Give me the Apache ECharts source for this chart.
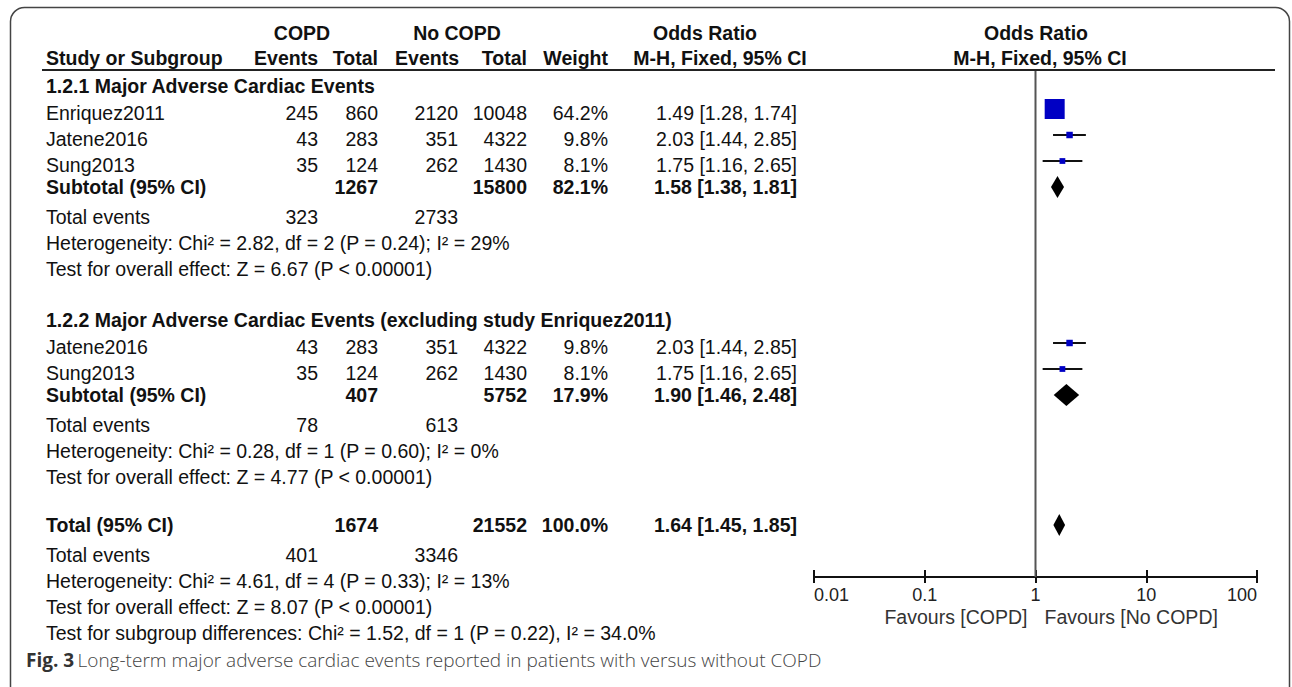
<!DOCTYPE html>
<html>
<head>
<meta charset="utf-8">
<title>Forest plot – major adverse cardiac events, COPD vs no COPD</title>
<script src="https://cdn.jsdelivr.net/npm/echarts@6/dist/echarts.min.js"></script>
<style>
  html, body { margin: 0; padding: 0; background: #fff; }
  #chart { width: 1292px; height: 687px; }
</style>
</head>
<body>
<div id="chart"></div>
<script>
// ---- study data -------------------------------------------------------------
const studies      = ['Enriquez2011', 'Jatene2016', 'Sung2013'];
const copdEvents   = [245, 43, 35];
const copdTotal    = [860, 283, 124];
const noCopdEvents = [2120, 351, 262];
const noCopdTotal  = [10048, 4322, 1430];
const weights      = [64.2, 9.8, 8.1];
const orValue      = [1.49, 2.03, 1.75];
const orLow        = [1.28, 1.44, 1.16];
const orHigh       = [1.74, 2.85, 2.65];

// ---- subgroups --------------------------------------------------------------
const subgroupTitles  = ['1.2.1 Major Adverse Cardiac Events',
                         '1.2.2 Major Adverse Cardiac Events (excluding study Enriquez2011)'];
const subgroupMembers = [[0, 1, 2], [1, 2]];
const subgroupOr      = [1.58, 1.90];
const subgroupLow     = [1.38, 1.46];
const subgroupHigh    = [1.81, 2.48];
const subgroupHet     = ['Heterogeneity: Chi² = 2.82, df = 2 (P = 0.24); I² = 29%',
                         'Heterogeneity: Chi² = 0.28, df = 1 (P = 0.60); I² = 0%'];
const subgroupEffect  = ['Test for overall effect: Z = 6.67 (P < 0.00001)',
                         'Test for overall effect: Z = 4.77 (P < 0.00001)'];

// ---- overall ----------------------------------------------------------------
const totalOr    = 1.64;
const totalLow   = 1.45;
const totalHigh  = 1.85;
const totalNotes = ['Heterogeneity: Chi² = 4.61, df = 4 (P = 0.33); I² = 13%',
                    'Test for overall effect: Z = 8.07 (P < 0.00001)',
                    'Test for subgroup differences: Chi² = 1.52, df = 1 (P = 0.22), I² = 34.0%'];

// ---- axis -------------------------------------------------------------------
const axisTicks      = [0.01, 0.1, 1, 10, 100];
const axisTickLabels = ['0.01', '0.1', '1', '10', '100'];
const favourLabels   = ['Favours [COPD]', 'Favours [No COPD]'];
const captionLead    = 'Fig. 3';
const captionText    = 'Long-term major adverse cardiac events reported in patients with versus without COPD';

// ---- layout -----------------------------------------------------------------
const FONT = "Liberation Sans, Arial, Helvetica, sans-serif";
const FS = 19.5;
const GRID = { left: 814, top: 71, width: 443, height: 506 };
const COL = { name: 46, ev1: 318, tot1: 378, ev2: 458, tot2: 527, weight: 608, or: 797 };
const STEP = { start: 86, afterTitle: 27, study: 26, subtotal: 22, afterSubtotal: 30,
               note: 26, groupGap: 51, beforeTotal: 48 };
const STUDY_SHIFT = -4;     // study marks sit slightly above the text centre line
const DIAMOND_H = 22;

const fmtOr = (m, l, h) => `${m.toFixed(2)} [${l.toFixed(2)}, ${h.toFixed(2)}]`;
const sumOf = (arr, idx) => idx.reduce((s, i) => s + arr[i], 0);

const texts = [];
function cell(str, x, y, align, bold) {
  texts.push({
    type: 'text', silent: true,
    style: {
      x: x, y: y, text: str, align: align || 'left', verticalAlign: 'middle',
      fill: '#111', fontFamily: FONT, fontSize: FS, fontWeight: bold ? 'bold' : 'normal'
    }
  });
}

// column headers
cell('COPD', 302, 33, 'center', true);
cell('No COPD', 457, 33, 'center', true);
cell('Odds Ratio', 705, 33, 'center', true);
cell('Odds Ratio', 1036, 33, 'center', true);
cell('Study or Subgroup', COL.name, 58, 'left', true);
cell('Events', COL.ev1, 58, 'right', true);
cell('Total', COL.tot1, 58, 'right', true);
cell('Events', COL.ev2 + 1, 58, 'right', true);
cell('Total', COL.tot2, 58, 'right', true);
cell('Weight', COL.weight, 58, 'right', true);
cell('M-H, Fixed, 95% CI', 720, 58, 'center', true);
cell('M-H, Fixed, 95% CI', 1040, 58, 'center', true);

// table body and marks, row by row
const studyMarks = [];
const diamondMarks = [];
let y = STEP.start;
let grand = { ct: 0, nt: 0, ce: 0, ne: 0, w: 0 };

subgroupTitles.forEach((title, g) => {
  if (g > 0) y += STEP.groupGap;
  cell(title, COL.name, y, 'left', true);
  const members = subgroupMembers[g];
  members.forEach((i, k) => {
    y += k === 0 ? STEP.afterTitle : STEP.study;
    cell(studies[i], COL.name, y, 'left');
    cell(String(copdEvents[i]), COL.ev1, y, 'right');
    cell(String(copdTotal[i]), COL.tot1, y, 'right');
    cell(String(noCopdEvents[i]), COL.ev2, y, 'right');
    cell(String(noCopdTotal[i]), COL.tot2, y, 'right');
    cell(weights[i].toFixed(1) + '%', COL.weight, y, 'right');
    cell(fmtOr(orValue[i], orLow[i], orHigh[i]), COL.or, y, 'right');
    studyMarks.push([orValue[i], orLow[i], orHigh[i], y + STUDY_SHIFT - GRID.top, weights[i]]);
  });
  const ct = sumOf(copdTotal, members), nt = sumOf(noCopdTotal, members);
  const ce = sumOf(copdEvents, members), ne = sumOf(noCopdEvents, members);
  const w = sumOf(weights, members);
  grand.ct += ct; grand.nt += nt; grand.ce += ce; grand.ne += ne; grand.w += w;

  y += STEP.subtotal;
  cell('Subtotal (95% CI)', COL.name, y, 'left', true);
  cell(String(ct), COL.tot1, y, 'right', true);
  cell(String(nt), COL.tot2, y, 'right', true);
  cell(w.toFixed(1) + '%', COL.weight, y, 'right', true);
  cell(fmtOr(subgroupOr[g], subgroupLow[g], subgroupHigh[g]), COL.or, y, 'right', true);
  diamondMarks.push([subgroupOr[g], subgroupLow[g], subgroupHigh[g], y - GRID.top]);

  y += STEP.afterSubtotal;
  cell('Total events', COL.name, y, 'left');
  cell(String(ce), COL.ev1, y, 'right');
  cell(String(ne), COL.ev2, y, 'right');
  y += STEP.note;
  cell(subgroupHet[g], COL.name, y, 'left');
  y += STEP.note;
  cell(subgroupEffect[g], COL.name, y, 'left');
});

y += STEP.beforeTotal;
cell('Total (95% CI)', COL.name, y, 'left', true);
cell(String(grand.ct), COL.tot1, y, 'right', true);
cell(String(grand.nt), COL.tot2, y, 'right', true);
cell(grand.w.toFixed(1) + '%', COL.weight, y, 'right', true);
cell(fmtOr(totalOr, totalLow, totalHigh), COL.or, y, 'right', true);
diamondMarks.push([totalOr, totalLow, totalHigh, y - GRID.top]);

y += STEP.afterSubtotal;
cell('Total events', COL.name, y, 'left');
cell(String(grand.ce), COL.ev1, y, 'right');
cell(String(grand.ne), COL.ev2, y, 'right');
totalNotes.forEach(note => { y += STEP.note; cell(note, COL.name, y, 'left'); });

// frame, header rule and caption
const decorations = [
  { type: 'rect', silent: true, z: -1,
    shape: { x: 10.5, y: 7.5, width: 1279, height: 720, r: 14 },
    style: { fill: 'none', stroke: '#444', lineWidth: 1.5 } },
  { type: 'line', silent: true,
    shape: { x1: 42, y1: 70, x2: 1275, y2: 70 },
    style: { stroke: '#222', lineWidth: 2 } },
  { type: 'text', silent: true,
    style: {
      x: 26, y: 660, verticalAlign: 'middle', align: 'left',
      text: '{b|' + captionLead + '} {l|' + captionText + '}',
      rich: {
        b: { fontFamily: 'Open Sans, sans-serif', fontWeight: 'bold', fontSize: 19, fill: '#333' },
        l: { fontFamily: 'Open Sans, sans-serif', fontWeight: 300, fontSize: 19, fill: '#444' }
      }
    } }
];

const chart = echarts.init(document.getElementById('chart'), null, { renderer: 'svg' });

const logAxisBase = {
  type: 'log', logBase: 10,
  min: axisTicks[0], max: axisTicks[axisTicks.length - 1],
  splitLine: { show: false }
};

chart.setOption({
  animation: false,
  backgroundColor: '#fff',
  // two grids with the same geometry: the second one only carries the
  // upward half of the tick marks, so the ticks cross the axis line
  grid: [Object.assign({ containLabel: false }, GRID), Object.assign({ containLabel: false }, GRID)],
  xAxis: [
    Object.assign({}, logAxisBase, {
      gridIndex: 0, position: 'bottom',
      axisLine: { show: true, onZero: false, lineStyle: { color: '#111', width: 2 } },
      axisTick: { show: true, inside: false, length: 6, lineStyle: { color: '#111', width: 2 } },
      axisLabel: {
        show: true, margin: 9, color: '#222', fontSize: 18, fontFamily: FONT,
        alignMinLabel: 'left', alignMaxLabel: 'right',
        formatter: v => {
          const k = axisTicks.findIndex(t => Math.abs(Math.log10(t) - Math.log10(v)) < 1e-6);
          return k >= 0 ? axisTickLabels[k] : '';
        }
      }
    }),
    Object.assign({}, logAxisBase, {
      gridIndex: 1, position: 'bottom',
      axisLine: { show: false, onZero: false },
      axisTick: { show: true, inside: true, length: 7, lineStyle: { color: '#111', width: 2 } },
      axisLabel: { show: false }
    })
  ],
  yAxis: [
    { gridIndex: 0, type: 'value', min: 0, max: GRID.height, inverse: true, show: false },
    { gridIndex: 1, type: 'value', min: 0, max: GRID.height, inverse: true, show: false }
  ],
  series: [
    { // line of no effect
      type: 'line', xAxisIndex: 0, yAxisIndex: 0, silent: true, symbol: 'none',
      data: [[1, 0], [1, GRID.height]],
      lineStyle: { color: '#555', width: 2 }
    },
    { // individual studies: CI whisker + weighted square
      type: 'custom', xAxisIndex: 0, yAxisIndex: 0, silent: true,
      data: studyMarks,
      encode: { x: [0, 1, 2], y: 3 },
      renderItem: (params, api) => {
        const yv = api.value(3);
        const c = api.coord([api.value(0), yv]);
        const a = api.coord([api.value(1), yv]);
        const b = api.coord([api.value(2), yv]);
        const s = 20 * Math.pow(api.value(4) / weights[0], 0.6);
        return { type: 'group', children: [
          { type: 'line', shape: { x1: a[0], y1: a[1], x2: b[0], y2: b[1] },
            style: { stroke: '#111', lineWidth: 2 } },
          { type: 'rect', shape: { x: c[0] - s / 2, y: c[1] - s / 2, width: s, height: s },
            style: { fill: '#0000c4' } }
        ] };
      }
    },
    { // pooled estimates: diamonds
      type: 'custom', xAxisIndex: 0, yAxisIndex: 0, silent: true,
      data: diamondMarks,
      encode: { x: [0, 1, 2], y: 3 },
      renderItem: (params, api) => {
        const yv = api.value(3);
        const c = api.coord([api.value(0), yv]);
        const a = api.coord([api.value(1), yv]);
        const b = api.coord([api.value(2), yv]);
        const h = DIAMOND_H / 2;
        return { type: 'polygon',
          shape: { points: [[a[0], a[1]], [c[0], c[1] - h], [b[0], b[1]], [c[0], c[1] + h]] },
          style: { fill: '#000' } };
      }
    }
  ],
  graphic: decorations.concat(texts)
});

// "Favours" captions either side of the line of no effect
const x1 = chart.convertToPixel({ xAxisIndex: 0 }, 1);
const axisY = GRID.top + GRID.height;
chart.setOption({
  graphic: decorations.concat(texts).concat([
    { type: 'text', silent: true,
      style: { x: x1 - 8, y: axisY + 40, text: favourLabels[0], align: 'right', verticalAlign: 'middle',
               fill: '#333', fontFamily: FONT, fontSize: FS } },
    { type: 'text', silent: true,
      style: { x: x1 + 9, y: axisY + 40, text: favourLabels[1], align: 'left', verticalAlign: 'middle',
               fill: '#333', fontFamily: FONT, fontSize: FS } }
  ])
});
</script>
</body>
</html>
